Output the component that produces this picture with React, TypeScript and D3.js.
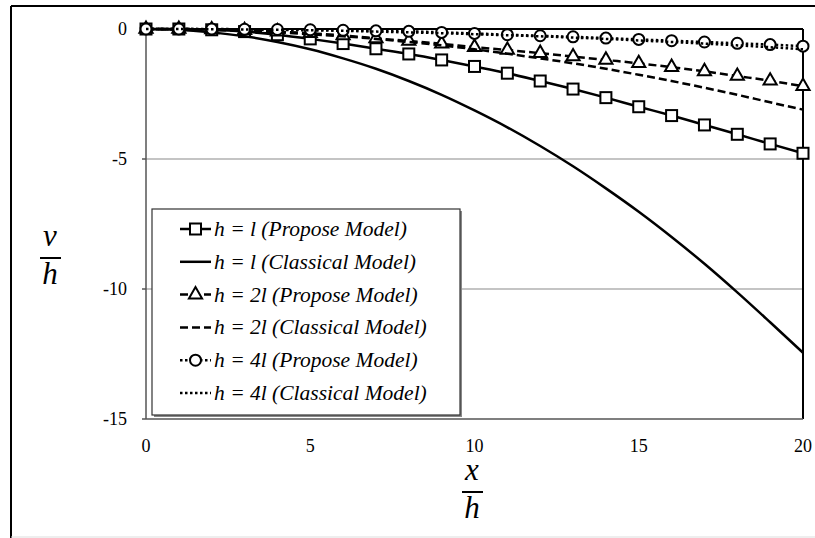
import React from "react";
import * as d3 from "d3";

const xs = [0, 1, 2, 3, 4, 5, 6, 7, 8, 9, 10, 11, 12, 13, 14, 15, 16, 17, 18, 19, 20];
const propL = [0, 0, -0.03, -0.1, -0.22, -0.38, -0.56, -0.76, -0.96, -1.19, -1.44, -1.7, -2.0, -2.31, -2.64, -2.99, -3.33, -3.69, -4.05, -4.42, -4.78];
const classL = [0, -0.03, -0.13, -0.28, -0.5, -0.78, -1.13, -1.53, -2.0, -2.53, -3.13, -3.78, -4.5, -5.28, -6.13, -7.03, -8.0, -9.03, -10.13, -11.28, -12.45];
const prop2L = [0, 0, -0.02, -0.05, -0.1, -0.16, -0.25, -0.36, -0.46, -0.57, -0.7, -0.81, -0.93, -1.06, -1.19, -1.32, -1.47, -1.63, -1.81, -1.99, -2.2];
const class2L = [0, -0.01, -0.03, -0.07, -0.13, -0.2, -0.28, -0.38, -0.5, -0.63, -0.78, -0.95, -1.13, -1.32, -1.53, -1.76, -2.0, -2.26, -2.53, -2.82, -3.1];
const prop4L = [0, 0, 0, -0.01, -0.02, -0.03, -0.05, -0.07, -0.09, -0.13, -0.17, -0.22, -0.26, -0.3, -0.35, -0.4, -0.45, -0.5, -0.55, -0.6, -0.66];
const class4L = [0, 0, -0.01, -0.02, -0.03, -0.05, -0.07, -0.1, -0.13, -0.16, -0.2, -0.24, -0.28, -0.33, -0.38, -0.44, -0.5, -0.56, -0.63, -0.7, -0.78];

const legendLabels = [
  "h = l (Propose Model)",
  "h = l (Classical Model)",
  "h = 2l (Propose Model)",
  "h = 2l (Classical Model)",
  "h = 4l (Propose Model)",
  "h = 4l (Classical Model)",
];
const xTicks = [0, 5, 10, 15, 20];
const yTicks = [0, -5, -10, -15];

type Marker = "square" | "triangle" | "circle" | null;
const series: { values: number[]; dash: string; marker: Marker }[] = [
  { values: propL, dash: "", marker: "square" },
  { values: classL, dash: "", marker: null },
  { values: prop2L, dash: "8,4", marker: "triangle" },
  { values: class2L, dash: "8,4", marker: null },
  { values: prop4L, dash: "2.5,2.5", marker: "circle" },
  { values: class4L, dash: "2.5,2.5", marker: null },
];

const FONT = "Liberation Serif, Times New Roman, DejaVu Serif, serif";

function MarkerShape({ kind, cx, cy }: { kind: Marker; cx: number; cy: number }) {
  if (kind === "square")
    return <rect x={cx - 5.5} y={cy - 5.5} width={11} height={11} fill="#fff" stroke="#000" strokeWidth={2} />;
  if (kind === "triangle") {
    const p = d3.symbol(d3.symbolTriangle, 75)();
    return <path d={p as string} transform={`translate(${cx},${cy})`} fill="#fff" stroke="#000" strokeWidth={2} />;
  }
  if (kind === "circle") return <circle cx={cx} cy={cy} r={5.5} fill="#fff" stroke="#000" strokeWidth={2} />;
  return null;
}

export default function App() {
  const x = d3.scaleLinear().domain([0, 20]).range([146, 803]);
  const y = d3.scaleLinear().domain([0, -15]).range([29, 419]);
  const line = d3
    .line<number>()
    .x((_, i) => x(xs[i]))
    .y((d) => y(d))
    .curve(d3.curveMonotoneX);

  const legX = 152, legY = 209, legW = 308, legH = 206;

  return (
    <svg width={815} height={538} style={{ position: "absolute", left: 0, top: 0, background: "#fff" }}>
      <rect x={0} y={0} width={815} height={538} fill="#fff" />
      {/* outer frame */}
      <line x1={11} y1={6} x2={815} y2={6} stroke="#000" strokeWidth={2} />
      <line x1={11} y1={6} x2={11} y2={538} stroke="#000" strokeWidth={2} />
      <line x1={11} y1={537} x2={815} y2={537} stroke="#ddd" strokeWidth={1} />

      {/* gridlines */}
      {[-5, -10].map((t) => (
        <line key={t} x1={x(0)} x2={x(20)} y1={y(t)} y2={y(t)} stroke="#b0b0b0" strokeWidth={1.5} />
      ))}

      {/* plot frame */}
      <line x1={x(0)} x2={x(20)} y1={y(0)} y2={y(0)} stroke="#000" strokeWidth={2} />
      <line x1={x(20)} x2={x(20)} y1={y(0)} y2={y(-15)} stroke="#000" strokeWidth={2} />
      <line x1={x(0)} x2={x(20)} y1={y(-15)} y2={y(-15)} stroke="#555" strokeWidth={1.5} />
      <line x1={x(0)} x2={x(0)} y1={y(0)} y2={y(-15)} stroke="#555" strokeWidth={1.5} />
      {yTicks.map((t) => (
        <line key={t} x1={x(0) - 4} x2={x(0)} y1={y(t)} y2={y(t)} stroke="#555" strokeWidth={1.5} />
      ))}

      {/* tick labels */}
      {yTicks.map((t) => (
        <text key={t} x={127} y={y(t) + 6} textAnchor="end" fontFamily={FONT} fontSize={18}>
          {t}
        </text>
      ))}
      {xTicks.map((t) => (
        <text key={t} x={x(t)} y={452} textAnchor="middle" fontFamily={FONT} fontSize={18}>
          {t}
        </text>
      ))}

      {/* series */}
      {series.map((s, si) => (
        <g key={si}>
          <path d={line(s.values) as string} fill="none" stroke="#000" strokeWidth={2.5} strokeDasharray={s.dash || undefined} />
          {s.marker && s.values.map((v, i) => <MarkerShape key={i} kind={s.marker} cx={x(xs[i])} cy={y(v)} />)}
        </g>
      ))}

      {/* legend */}
      <rect x={legX + 2} y={legY + 2} width={legW} height={legH} fill="#888" />
      <rect x={legX} y={legY} width={legW} height={legH} fill="#fff" stroke="#333" strokeWidth={1.2} />
      {legendLabels.map((lab, i) => {
        const cy = 229 + i * 32.8;
        const s = series[i];
        return (
          <g key={i}>
            <line x1={180} x2={211} y1={cy} y2={cy} stroke="#000" strokeWidth={2.5} strokeDasharray={s.dash || undefined} />
            {s.marker && <MarkerShape kind={s.marker} cx={195.5} cy={cy} />}
            <text x={214} y={cy + 7} fontFamily={FONT} fontStyle="italic" fontSize={21.5}>
              {lab}
            </text>
          </g>
        );
      })}

      {/* axis titles */}
      <g fontFamily={FONT} fontStyle="italic" fontSize={31} textAnchor="middle">
        <text x={472} y={480}>x</text>
        <line x1={462} x2={483} y1={492} y2={492} stroke="#000" strokeWidth={2} />
        <text x={472} y={518}>h</text>
        <text x={50} y={246}>v</text>
        <line x1={40} x2={61} y1={258} y2={258} stroke="#000" strokeWidth={2} />
        <text x={50} y={284}>h</text>
      </g>
    </svg>
  );
}
